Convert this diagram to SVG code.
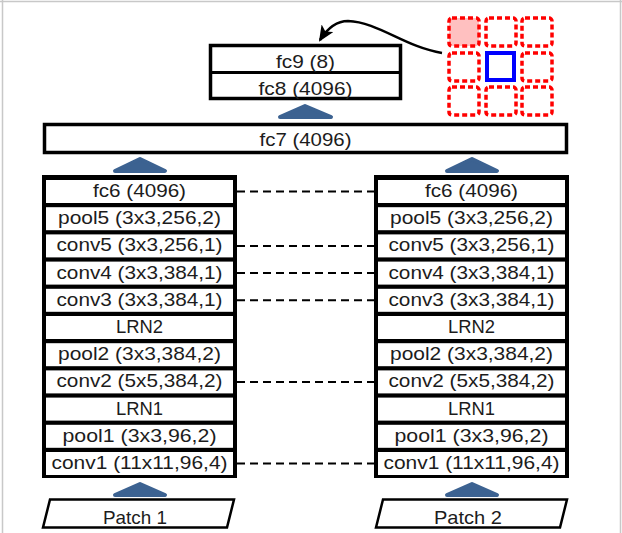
<svg xmlns="http://www.w3.org/2000/svg" width="622" height="533" viewBox="0 0 622 533">
<defs>
<style>
.t{font-family:"Liberation Sans",Arial,sans-serif;font-size:19px;fill:#1c1c1c;text-anchor:middle}
.row{fill:#fff}
.tower{fill:#000}
.box{fill:#fff;stroke:#000;stroke-width:3.5}
.up{fill:#3c6291;stroke:#3c6291;stroke-width:4;stroke-linejoin:round}
.dash{stroke:#000;stroke-width:2;stroke-dasharray:8 5;fill:none}
.cell{fill:none;stroke:#ff0000;stroke-width:3.5;stroke-dasharray:5 3}
.frame{stroke:#c8c8c8;stroke-width:1.5}
</style>
<marker id="ah" markerUnits="userSpaceOnUse" markerWidth="16" markerHeight="14" refX="14" refY="7" orient="auto">
<path d="M0,0 L16,7 L0,14 L4,7 z" fill="#000"/>
</marker>
</defs>
<rect width="622" height="533" fill="#fff"/>
<g id="frame">
<line class="frame" x1="2.5" y1="0" x2="2.5" y2="533"/>
<line class="frame" x1="0" y1="1.5" x2="622" y2="1.5"/>
<line class="frame" x1="620.5" y1="0" x2="620.5" y2="533"/>
</g>

<g id="connectors">
<line class="dash" x1="237" y1="191.5" x2="375" y2="191.5"/>
<line class="dash" x1="237" y1="245.9" x2="375" y2="245.9"/>
<line class="dash" x1="237" y1="273.1" x2="375" y2="273.1"/>
<line class="dash" x1="237" y1="300.3" x2="375" y2="300.3"/>
<line class="dash" x1="237" y1="381.9" x2="375" y2="381.9"/>
<line class="dash" x1="237" y1="463.5" x2="375" y2="463.5"/>
<path d="M442,53 C405,47 378,22 348,21 C336,21 327,29 320,40" fill="none" stroke="#000" stroke-width="2.5" marker-end="url(#ah)"/>
<polygon class="up" points="280,117 305,106 331,117"/>
<polygon class="up" points="115,171 140,159 165,171"/>
<polygon class="up" points="447,171 472,159 497,171"/>
<polygon class="up" points="115,495 140,484 165,495"/>
<polygon class="up" points="447,495 472,484 497,495"/>
</g>

<g id="grid">
<rect x="449" y="18" width="30" height="28" rx="3" fill="#ffc0c0"/>
<rect class="cell" x="449" y="18" width="30" height="28" rx="3"/>
<rect class="cell" x="486" y="18" width="30" height="28" rx="3"/>
<rect class="cell" x="522" y="18" width="30" height="28" rx="3"/>
<rect class="cell" x="449" y="53" width="30" height="28" rx="3"/>
<rect class="cell" x="522" y="53" width="30" height="28" rx="3"/>
<rect class="cell" x="449" y="87" width="30" height="28" rx="3"/>
<rect class="cell" x="486" y="87" width="30" height="28" rx="3"/>
<rect class="cell" x="522" y="87" width="30" height="28" rx="3"/>
<rect x="487" y="53" width="27" height="27" fill="#fff" stroke="#0000ff" stroke-width="4"/>
</g>

<g id="fc98">
<rect class="box" x="210.5" y="45.5" width="190" height="53"/>
<line x1="210" y1="72.5" x2="401" y2="72.5" stroke="#000" stroke-width="3"/>
<text class="t" x="305.5" y="68" textLength="59" lengthAdjust="spacingAndGlyphs">fc9 (8)</text>
<text class="t" x="305.5" y="95" textLength="94" lengthAdjust="spacingAndGlyphs">fc8 (4096)</text>
</g>

<g id="fc7">
<rect class="box" x="44.5" y="124.5" width="522" height="28"/>
<text class="t" x="305.5" y="145.5" textLength="92" lengthAdjust="spacingAndGlyphs">fc7 (4096)</text>
</g>

<g id="tower1">
<rect class="tower" x="42" y="175" width="195" height="303"/>
<rect class="row" x="46" y="180" width="187" height="23"/>
<rect class="row" x="46" y="207.2" width="187" height="23"/>
<rect class="row" x="46" y="234.4" width="187" height="23"/>
<rect class="row" x="46" y="261.6" width="187" height="23"/>
<rect class="row" x="46" y="288.8" width="187" height="23"/>
<rect class="row" x="46" y="316" width="187" height="23"/>
<rect class="row" x="46" y="343.2" width="187" height="23"/>
<rect class="row" x="46" y="370.4" width="187" height="23"/>
<rect class="row" x="46" y="397.6" width="187" height="23"/>
<rect class="row" x="46" y="424.8" width="187" height="23"/>
<rect class="row" x="46" y="452" width="187" height="23"/>
<text class="t" x="139.5" y="197" textLength="93" lengthAdjust="spacingAndGlyphs">fc6 (4096)</text>
<text class="t" x="139.5" y="224.2" textLength="163" lengthAdjust="spacingAndGlyphs">pool5 (3x3,256,2)</text>
<text class="t" x="139.5" y="251.4" textLength="166" lengthAdjust="spacingAndGlyphs">conv5 (3x3,256,1)</text>
<text class="t" x="139.5" y="278.6" textLength="166" lengthAdjust="spacingAndGlyphs">conv4 (3x3,384,1)</text>
<text class="t" x="139.5" y="305.8" textLength="166" lengthAdjust="spacingAndGlyphs">conv3 (3x3,384,1)</text>
<text class="t" x="139.5" y="333" textLength="47" lengthAdjust="spacingAndGlyphs">LRN2</text>
<text class="t" x="139.5" y="360.2" textLength="163" lengthAdjust="spacingAndGlyphs">pool2 (3x3,384,2)</text>
<text class="t" x="139.5" y="387.4" textLength="166" lengthAdjust="spacingAndGlyphs">conv2 (5x5,384,2)</text>
<text class="t" x="139.5" y="414.6" textLength="47" lengthAdjust="spacingAndGlyphs">LRN1</text>
<text class="t" x="139.5" y="441.8" textLength="154" lengthAdjust="spacingAndGlyphs">pool1 (3x3,96,2)</text>
<text class="t" x="139.5" y="469" textLength="176" lengthAdjust="spacingAndGlyphs">conv1 (11x11,96,4)</text>
</g>

<g id="tower2">
<rect class="tower" x="374" y="175" width="195" height="303"/>
<rect class="row" x="378" y="180" width="187" height="23"/>
<rect class="row" x="378" y="207.2" width="187" height="23"/>
<rect class="row" x="378" y="234.4" width="187" height="23"/>
<rect class="row" x="378" y="261.6" width="187" height="23"/>
<rect class="row" x="378" y="288.8" width="187" height="23"/>
<rect class="row" x="378" y="316" width="187" height="23"/>
<rect class="row" x="378" y="343.2" width="187" height="23"/>
<rect class="row" x="378" y="370.4" width="187" height="23"/>
<rect class="row" x="378" y="397.6" width="187" height="23"/>
<rect class="row" x="378" y="424.8" width="187" height="23"/>
<rect class="row" x="378" y="452" width="187" height="23"/>
<text class="t" x="471.5" y="197" textLength="93" lengthAdjust="spacingAndGlyphs">fc6 (4096)</text>
<text class="t" x="471.5" y="224.2" textLength="163" lengthAdjust="spacingAndGlyphs">pool5 (3x3,256,2)</text>
<text class="t" x="471.5" y="251.4" textLength="166" lengthAdjust="spacingAndGlyphs">conv5 (3x3,256,1)</text>
<text class="t" x="471.5" y="278.6" textLength="166" lengthAdjust="spacingAndGlyphs">conv4 (3x3,384,1)</text>
<text class="t" x="471.5" y="305.8" textLength="166" lengthAdjust="spacingAndGlyphs">conv3 (3x3,384,1)</text>
<text class="t" x="471.5" y="333" textLength="47" lengthAdjust="spacingAndGlyphs">LRN2</text>
<text class="t" x="471.5" y="360.2" textLength="163" lengthAdjust="spacingAndGlyphs">pool2 (3x3,384,2)</text>
<text class="t" x="471.5" y="387.4" textLength="166" lengthAdjust="spacingAndGlyphs">conv2 (5x5,384,2)</text>
<text class="t" x="471.5" y="414.6" textLength="47" lengthAdjust="spacingAndGlyphs">LRN1</text>
<text class="t" x="471.5" y="441.8" textLength="154" lengthAdjust="spacingAndGlyphs">pool1 (3x3,96,2)</text>
<text class="t" x="471.5" y="469" textLength="176" lengthAdjust="spacingAndGlyphs">conv1 (11x11,96,4)</text>
</g>

<g id="patch1">
<polygon points="50,499.5 234,499.5 227,527.5 43,527.5" fill="#fff" stroke="#000" stroke-width="2.5"/>
<text class="t" x="135" y="523.5" textLength="64" lengthAdjust="spacingAndGlyphs">Patch 1</text>
</g>
<g id="patch2">
<polygon points="383,499.5 567,499.5 560,527.5 376,527.5" fill="#fff" stroke="#000" stroke-width="2.5"/>
<text class="t" x="468" y="523.5" textLength="68" lengthAdjust="spacingAndGlyphs">Patch 2</text>
</g>
</svg>
